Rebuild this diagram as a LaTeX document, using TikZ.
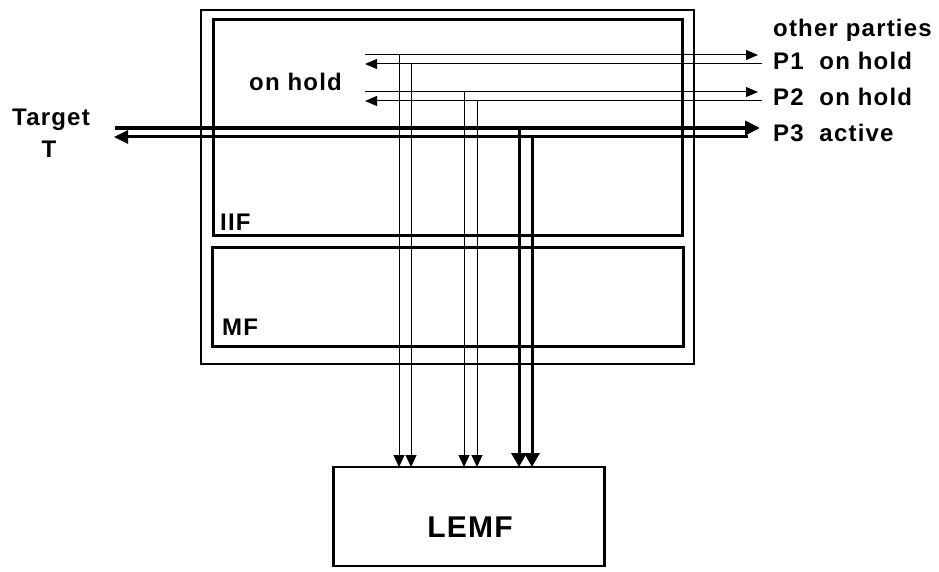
\documentclass[tikz,border=0pt]{standalone}
\usepackage{fontspec}
\setmainfont{Liberation Sans}
\newfontfamily\lblfont{Liberation Sans}[LetterSpace=5]
\newfontfamily\bigfont{Liberation Sans}[LetterSpace=4]
\usetikzlibrary{arrows.meta}
\begin{document}
\begin{tikzpicture}[x=1pt,y=-1pt,
  lbl/.style={font=\fontsize{24}{28}\lblfont\bfseries, inner sep=0pt, anchor=base west},
  box/.style={draw, inner sep=0pt, outer sep=0pt},
  thinarr/.style={line width=1pt, -{Triangle[length=12pt,width=10pt]}},
  taparr/.style={line width=1pt, -{Triangle[length=12pt,width=11pt]}},
  thickarr/.style={line width=3pt, -{Triangle[length=14pt,width=15pt]}}]
\useasboundingbox (0,0) rectangle (939,572);

% boxes
\node[box, line width=1.3pt, minimum width=493pt, minimum height=354pt] (outer) at (447.5,187) {};
\node[box, line width=3pt, minimum width=469pt, minimum height=215pt] (iif) at (447.5,127.5) {};
\node[box, line width=3pt, minimum width=471pt, minimum height=99pt] (mf) at (447.5,296.5) {};
\node[box, line width=2.5pt, minimum width=271pt, minimum height=99pt] (lemf) at (469,516.5) {};

% labels
\node[lbl] (otherparties) at (773,37) {other parties};
\node[lbl] (p1lbl) at (773,70) {P1\ \ on hold};
\node[lbl] (p2lbl) at (773,106) {P2\ \ on hold};
\node[lbl] (p3lbl) at (773,142) {P3\ \ active};
\node[lbl] (onhold) at (249,91) {on hold};
\node[lbl, anchor=base] (target) at (51,126) {Target};
\node[lbl, anchor=base] (targetT) at (49,158) {T};
\node[lbl] (iiflbl) at (220,230) {IIF};
\node[lbl] (mflbl) at (222,335) {MF};
\node[font=\fontsize{30}{34}\bigfont\bfseries, inner sep=0pt, anchor=base] (lemflbl) at (470,537) {LEMF};

% end points
\coordinate (p1os) at (365,55);  \coordinate (p1oe) at (758,55);
\coordinate (p1is) at (762,64);  \coordinate (p1ie) at (365,64);
\coordinate (p2os) at (365,92);  \coordinate (p2oe) at (758,92);
\coordinate (p2is) at (762,101); \coordinate (p2ie) at (365,101);
\coordinate (p3os) at (115,128); \coordinate (p3oe) at (760,128);
\coordinate (p3is) at (748,137); \coordinate (p3ie) at (114,137);
\coordinate (t1) at (399,55);  \coordinate (t2) at (411,64);
\coordinate (t3) at (464,92);  \coordinate (t4) at (477,101);
\coordinate (t5) at (519,128); \coordinate (t6) at (532,137);

% horizontal lines
\draw[thinarr] (p1os) -- (p1oe);
\draw[thinarr] (p1is) -- (p1ie);
\draw[thinarr] (p2os) -- (p2oe);
\draw[thinarr] (p2is) -- (p2ie);
\draw[line width=4pt, -{Triangle[length=15pt,width=14pt]}] (p3os) -- (p3oe);
\draw[line width=3pt, -{Triangle[length=14pt,width=13pt]}] (p3is) -- (p3ie);

% taps to LEMF
\draw[taparr] (t1) -- (t1 |- lemf.north);
\draw[taparr] (t2) -- (t2 |- lemf.north);
\draw[taparr] (t3) -- (t3 |- lemf.north);
\draw[taparr] (t4) -- (t4 |- lemf.north);
\draw[thickarr] (t5) -- (t5 |- lemf.north);
\draw[thickarr] (t6) -- (t6 |- lemf.north);
\end{tikzpicture}
\end{document}
